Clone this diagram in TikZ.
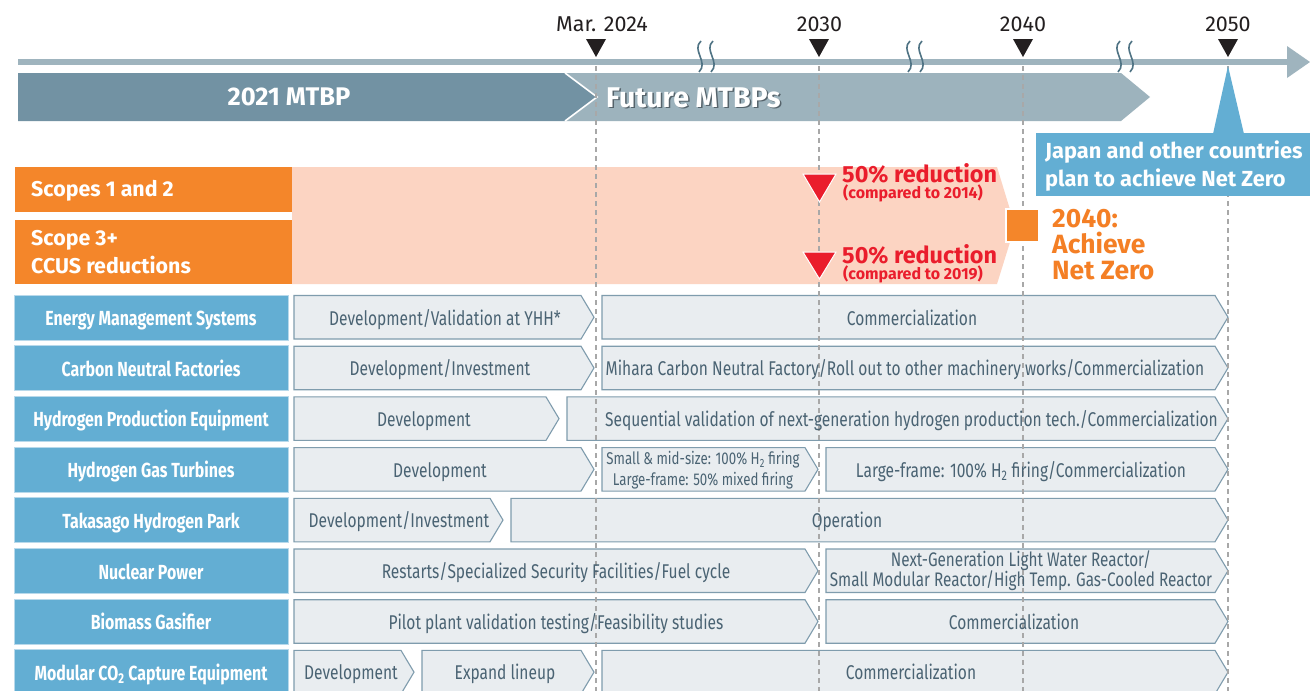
\documentclass[tikz,border=0pt]{standalone}
\usepackage{fontspec}
\setmainfont{Fira Sans}[FakeStretch=0.78]
\newfontfamily\widef{Fira Sans}
\usetikzlibrary{calc}
\definecolor{tline}{HTML}{9FB4BE}
\definecolor{mtbpdark}{HTML}{7292A3}
\definecolor{mtbplight}{HTML}{9DB3BD}
\definecolor{yeartri}{HTML}{231F20}
\definecolor{breakc}{HTML}{4F7384}
\definecolor{orangec}{HTML}{F4862A}
\definecolor{orangetxt}{HTML}{F47F25}
\definecolor{peach}{HTML}{FCD4C2}
\definecolor{redc}{HTML}{EA1D2C}
\definecolor{bluec}{HTML}{63AED3}
\definecolor{blueedge}{HTML}{B8D9EB}
\definecolor{grayfill}{HTML}{E9EDF0}
\definecolor{grayedge}{HTML}{7F9CAD}
\definecolor{graytxt}{HTML}{4A6373}
\definecolor{dashc}{HTML}{A8A8A8}
\definecolor{shadowc}{HTML}{55636B}
\newcommand\chevbox[3]{%
  \pgfmathsetmacro\rowTop{295.5+50.7*(#3-1)}%
  \pgfmathsetmacro\rowBot{\rowTop+43.5}%
  \pgfmathsetmacro\rowMid{\rowTop+21.75}%
  \pgfmathsetmacro\rowTip{#2+13}%
  \draw[graybox] (#1,\rowTop) -- (#2,\rowTop) -- (\rowTip,\rowMid) -- (#2,\rowBot) -- (#1,\rowBot) -- cycle;}
\newcommand\labelbox[2]{%
  \pgfmathsetmacro\rowTop{295+50.7*(#1-1)}%
  \pgfmathsetmacro\rowBot{\rowTop+45}%
  \pgfmathsetmacro\rowBase{\rowTop+30.5}%
  \draw[bluebox] (14,\rowTop) rectangle (288,\rowBot);
  \node[labeltext, anchor=base] (lab#1) at (151,\rowBase) {#2};}
% gray text: name, x, row, text
\newcommand\rowtext[4]{%
  \pgfmathsetmacro\rowBase{295+50.7*(#3-1)+30}%
  \node[boxtext, anchor=base] (#1) at (#2,\rowBase) {#4};}
\newcommand\breakmark[1]{%
  \draw[breakc, line width=1.6] (#1+1,41) .. controls (#1-9,50) and (#1+9,62) .. (#1-1,72);
  \draw[breakc, line width=1.6] (#1+13,41) .. controls (#1+3,50) and (#1+21,62) .. (#1+11,72);}
\newcommand\yeartick[4]{%
  \fill[yeartri] (#1-10,39) -- (#1+10,39) -- (#1,57) -- cycle;
  \node[yeartext, anchor=base] (#3) at (#4,31.5) {#2};}
\tikzset{
  graybox/.style={fill=grayfill, draw=grayedge, line width=1.1},
  bluebox/.style={fill=bluec, draw=blueedge, line width=1},
  labeltext/.style={text=white, font=\fontsize{20.4}{22}\selectfont\bfseries, inner sep=0},
  boxtext/.style={text=graytxt, font=\fontsize{19.9}{22}\selectfont, inner sep=0},
  smalltext/.style={text=graytxt, font=\fontsize{17}{20.5}\selectfont, inner sep=0, align=center},
  yeartext/.style={text=yeartri, font=\widef\fontsize{21.5}{23}\selectfont, inner sep=0},
  widebold/.style={font=\widef\bfseries\fontsize{#1}{#1}\selectfont, inner sep=0},
  dashv/.style={draw=dashc, line width=1.2, dash pattern=on 5pt off 4pt},
}
\begin{document}
\begin{tikzpicture}[x=1pt,y=-1pt]
\useasboundingbox (0,0) rectangle (1310,691);
\fill[white] (0,0) rectangle (1310,691);
% timeline
\draw[tline, line width=6] (18,62) -- (1290,62);
\fill[tline] (1287,46) -- (1310,62) -- (1287,78) -- cycle;
\breakmark{700}
\breakmark{909}
\breakmark{1119}
% MTBP bands
\fill[mtbplight] (565,73) -- (1121,73) -- (1150,97) -- (1121,121) -- (565,121) -- (597,97) -- cycle;
\fill[mtbpdark] (18,73) -- (565,73) -- (597,97) -- (565,121) -- (18,121) -- cycle;
\draw[white, line width=1.6] (565,73) -- (597,97) -- (565,121);
\node[widebold=25.5, text=white] (mtbp21) at (289,97) {2021 MTBP};
\node[widebold=28.5, text=shadowc, anchor=west] (futsh) at (607.5,99) {Future MTBPs};
\node[widebold=28.5, text=white, anchor=west] (fut) at (606,97.5) {Future MTBPs};
% scopes
\fill[peach] (292,167) -- (997,167) -- (1015,226) -- (997,284) -- (292,284) -- cycle;
\fill[orangec] (15,167) rectangle (292,212);
\fill[orangec] (15,220) rectangle (292,284);
\node[widebold=21.4, text=white, anchor=base west] (sc12) at (31,196.5) {Scopes 1 and 2};
\node[widebold=21.4, text=white, anchor=base west] (sc3a) at (31,245.5) {Scope 3+};
\node[widebold=21.4, text=white, anchor=base west] (sc3b) at (31,273.5) {CCUS reductions};
% rows
\labelbox{1}{Energy Management Systems}
\labelbox{2}{Carbon Neutral Factories}
\labelbox{3}{Hydrogen Production Equipment}
\labelbox{4}{Hydrogen Gas Turbines}
\labelbox{5}{Takasago Hydrogen Park}
\labelbox{6}{Nuclear Power}
\labelbox{7}{Biomass Gasifier}
\labelbox{8}{Modular CO\textsubscript{2} Capture Equipment}
\chevbox{294}{581}{1}\chevbox{602}{1215}{1}
\chevbox{294}{581}{2}\chevbox{602}{1215}{2}
\chevbox{294}{546}{3}\chevbox{567}{1215}{3}
\chevbox{294}{581}{4}\chevbox{602}{805}{4}\chevbox{826}{1215}{4}
\chevbox{294}{490}{5}\chevbox{511}{1215}{5}
\chevbox{294}{805}{6}\chevbox{826}{1215}{6}
\chevbox{294}{805}{7}\chevbox{826}{1215}{7}
\chevbox{294}{401}{8}\chevbox{422}{581}{8}\chevbox{602}{1215}{8}
% dashed year lines
\draw[dashv] (596,66) -- (596,691);
\draw[dashv] (819,66) -- (819,691);
\draw[dashv] (1023,66) -- (1023,691);
\draw[dashv] (1228,66) -- (1228,691);
% row texts
\rowtext{t1a}{445}{1}{Development/Validation at YHH*}
\rowtext{t1b}{912}{1}{Commercialization}
\rowtext{t2a}{440}{2}{Development/Investment}
\rowtext{t2b}{905}{2}{Mihara Carbon Neutral Factory/Roll out to other machinery works/Commercialization}
\rowtext{t3a}{424}{3}{Development}
\rowtext{t3b}{911.5}{3}{Sequential validation of next-generation hydrogen production tech./Commercialization}
\rowtext{t4a}{440}{4}{Development}
\node[smalltext, anchor=base] (t4b1) at (703,464.5) {Small \& mid-size: 100\% H\textsubscript{2} firing};
\node[smalltext, anchor=base] (t4b2) at (703,485) {Large-frame: 50\% mixed firing};
\rowtext{t4c}{1021}{4}{Large-frame: 100\% H\textsubscript{2} firing/Commercialization}
\rowtext{t5a}{399}{5}{Development/Investment}
\rowtext{t5b}{847}{5}{Operation}
\rowtext{t6a}{556}{6}{Restarts/Specialized Security Facilities/Fuel cycle}
\node[boxtext, anchor=base, font=\fontsize{19.6}{20}\selectfont] (t6b1) at (1021,566.5) {Next-Generation Light Water Reactor/};
\node[boxtext, anchor=base, font=\fontsize{19.6}{20}\selectfont] (t6b2) at (1021,586) {Small Modular Reactor/High Temp. Gas-Cooled Reactor};
\rowtext{t7a}{556}{7}{Pilot plant validation testing/Feasibility studies}
\rowtext{t7b}{1014}{7}{Commercialization}
\rowtext{t8a}{351}{8}{Development}
\rowtext{t8b}{505}{8}{Expand lineup}
\rowtext{t8c}{911}{8}{Commercialization}
% year ticks
\yeartick{596}{Mar. 2024}{ymar}{602}
\yeartick{819}{2030}{y30}{819.5}
\yeartick{1023}{2040}{y40}{1023}
\yeartick{1228}{2050}{y50}{1228}
% reductions
\filldraw[fill=redc, draw=white, line width=1] (803,174) -- (836,174) -- (819.5,202) -- cycle;
\filldraw[fill=redc, draw=white, line width=1] (803,252) -- (836,252) -- (819.5,279) -- cycle;
\node[widebold=23.4, text=redc, anchor=base west] (red1) at (842,182) {50\% reduction};
\node[widebold=16, text=redc, anchor=base west] (red1s) at (843,198.5) {(compared to 2014)};
\node[widebold=23.4, text=redc, anchor=base west] (red2) at (842,263) {50\% reduction};
\node[widebold=16, text=redc, anchor=base west] (red2s) at (843,279.5) {(compared to 2019)};
% net zero
\filldraw[fill=orangec, draw=white, line width=1.2] (1006,209) rectangle (1039,242);
\node[widebold=26.4, text=orangetxt, anchor=base west] (nz1) at (1052,227) {2040:};
\node[widebold=26.4, text=orangetxt, anchor=base west] (nz2) at (1052,253.5) {Achieve};
\node[widebold=26.4, text=orangetxt, anchor=base west] (nz3) at (1052,279) {Net Zero};
% callout
\fill[bluec] (1228,66) -- (1244,134) -- (1213,134) -- cycle;
\fill[bluec] (1036,133) rectangle (1310,196);
\node[widebold=21.8, text=white, anchor=base west] (call1) at (1045,158.5) {Japan and other countries};
\node[widebold=21.8, text=white, anchor=base west] (call2) at (1045,186.5) {plan to achieve Net Zero};
\end{tikzpicture}
\end{document}
